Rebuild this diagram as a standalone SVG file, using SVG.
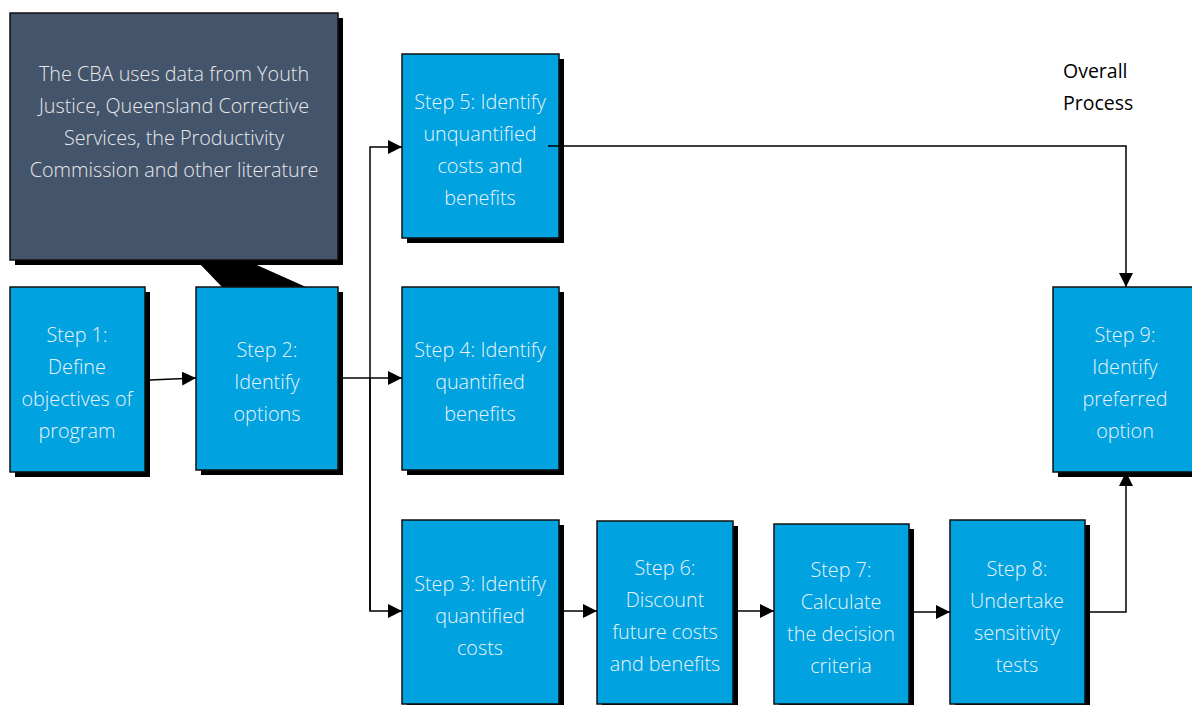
<svg xmlns="http://www.w3.org/2000/svg" width="1192" height="705" viewBox="0 0 1192 705">
  <defs>
    <style>
      .shadow { fill: #000; }
      .box { fill: #00A2DF; stroke: #111; stroke-width: 1.5; }
      .callout { fill: #44546A; stroke: #111; stroke-width: 1.5; }
      .lbl { font-family: "Open Sans", "Noto Sans", "Liberation Sans", sans-serif; font-weight: 300; font-size: 19.8px; fill: #EAF3FA; text-anchor: middle; }
      .note { font-family: "Open Sans", "Noto Sans", "Liberation Sans", sans-serif; font-weight: 300; font-size: 19.8px; fill: #E6E8EC; text-anchor: middle; }
      .title { font-family: "Open Sans", "Noto Sans", "Liberation Sans", sans-serif; font-size: 19.5px; fill: #000; }
      .wire { fill: none; stroke: #000; stroke-width: 1.5; }
    </style>
    <marker id="head" viewBox="0 0 14 14" refX="14" refY="7" markerWidth="14" markerHeight="14" markerUnits="userSpaceOnUse" orient="auto">
      <path d="M0,0 L14,7 L0,14 Z" fill="#000"/>
    </marker>
  </defs>

  <rect width="1192" height="705" fill="#fff"/>

  <!-- Note callout with tail pointing at Step 2 -->
  <g id="note">
    <polygon points="198,262 222,287 306,287 250,262" fill="#000"/>
    <rect class="shadow" x="15" y="18" width="328" height="247"/>
    <rect class="callout" x="10" y="13" width="328" height="247"/>
    <text class="note" x="174" y="81">The CBA uses data from Youth</text>
    <text class="note" x="174" y="113">Justice, Queensland Corrective</text>
    <text class="note" x="174" y="145">Services, the Productivity</text>
    <text class="note" x="174" y="177">Commission and other literature</text>
  </g>

  <g id="title">
    <text class="title" x="1063" y="78">Overall</text>
    <text class="title" x="1063" y="110">Process</text>
  </g>

  <g id="step1">
    <rect class="shadow" x="15" y="292" width="135" height="185"/>
    <rect class="box" x="10" y="287" width="135" height="185"/>
    <text class="lbl" x="77" y="342">Step 1:</text>
    <text class="lbl" x="77" y="374">Define</text>
    <text class="lbl" x="77" y="406">objectives of</text>
    <text class="lbl" x="77" y="438">program</text>
  </g>

  <g id="step2">
    <rect class="shadow" x="201" y="292" width="142" height="183"/>
    <rect class="box" x="196" y="287" width="142" height="183"/>
    <text class="lbl" x="267" y="357">Step 2:</text>
    <text class="lbl" x="267" y="389">Identify</text>
    <text class="lbl" x="267" y="421">options</text>
  </g>

  <g id="step5">
    <rect class="shadow" x="407" y="59" width="157" height="184"/>
    <rect class="box" x="402" y="54" width="157" height="184"/>
    <text class="lbl" x="480" y="109">Step 5: Identify</text>
    <text class="lbl" x="480" y="141">unquantified</text>
    <text class="lbl" x="480" y="173">costs and</text>
    <text class="lbl" x="480" y="205">benefits</text>
  </g>

  <g id="step4">
    <rect class="shadow" x="407" y="292" width="157" height="183"/>
    <rect class="box" x="402" y="287" width="157" height="183"/>
    <text class="lbl" x="480" y="357">Step 4: Identify</text>
    <text class="lbl" x="480" y="389">quantified</text>
    <text class="lbl" x="480" y="421">benefits</text>
  </g>

  <g id="step3">
    <rect class="shadow" x="407" y="525" width="157" height="184"/>
    <rect class="box" x="402" y="520" width="157" height="184"/>
    <text class="lbl" x="480" y="591">Step 3: Identify</text>
    <text class="lbl" x="480" y="623">quantified</text>
    <text class="lbl" x="480" y="655">costs</text>
  </g>

  <g id="step6">
    <rect class="shadow" x="602" y="526" width="136" height="183"/>
    <rect class="box" x="597" y="521" width="136" height="183"/>
    <text class="lbl" x="665" y="575">Step 6:</text>
    <text class="lbl" x="665" y="607">Discount</text>
    <text class="lbl" x="665" y="639">future costs</text>
    <text class="lbl" x="665" y="671">and benefits</text>
  </g>

  <g id="step7">
    <rect class="shadow" x="779" y="529" width="135" height="180"/>
    <rect class="box" x="774" y="524" width="135" height="180"/>
    <text class="lbl" x="841" y="577">Step 7:</text>
    <text class="lbl" x="841" y="609">Calculate</text>
    <text class="lbl" x="841" y="641">the decision</text>
    <text class="lbl" x="841" y="673">criteria</text>
  </g>

  <g id="step8">
    <rect class="shadow" x="955" y="525" width="135" height="184"/>
    <rect class="box" x="950" y="520" width="135" height="184"/>
    <text class="lbl" x="1017" y="576">Step 8:</text>
    <text class="lbl" x="1017" y="608">Undertake</text>
    <text class="lbl" x="1017" y="640">sensitivity</text>
    <text class="lbl" x="1017" y="672">tests</text>
  </g>

  <g id="step9">
    <rect class="shadow" x="1058" y="292" width="140" height="185"/>
    <rect class="box" x="1053" y="287" width="145" height="185"/>
    <text class="lbl" x="1125" y="342">Step 9:</text>
    <text class="lbl" x="1125" y="374">Identify</text>
    <text class="lbl" x="1125" y="406">preferred</text>
    <text class="lbl" x="1125" y="438">option</text>
  </g>

  <!-- Connectors, drawn over the boxes -->
  <g id="connectors">
    <path class="wire" d="M150,380 L196,378" marker-end="url(#head)"/>
    <path class="wire" d="M343,378 L402,378" marker-end="url(#head)"/>
    <path class="wire" d="M370,611 L370,147 L402,147" marker-end="url(#head)"/>
    <path class="wire" d="M370,378 L370,611 L402,611" marker-end="url(#head)"/>
    <path class="wire" d="M548,146 L1126,146 L1126,287" marker-end="url(#head)"/>
    <path class="wire" d="M564,611 L597,611" marker-end="url(#head)"/>
    <path class="wire" d="M738,611 L774,611" marker-end="url(#head)"/>
    <path class="wire" d="M914,612 L950,612" marker-end="url(#head)"/>
    <path class="wire" d="M1090,612 L1126,612 L1126,472" marker-end="url(#head)"/>
  </g>
</svg>
